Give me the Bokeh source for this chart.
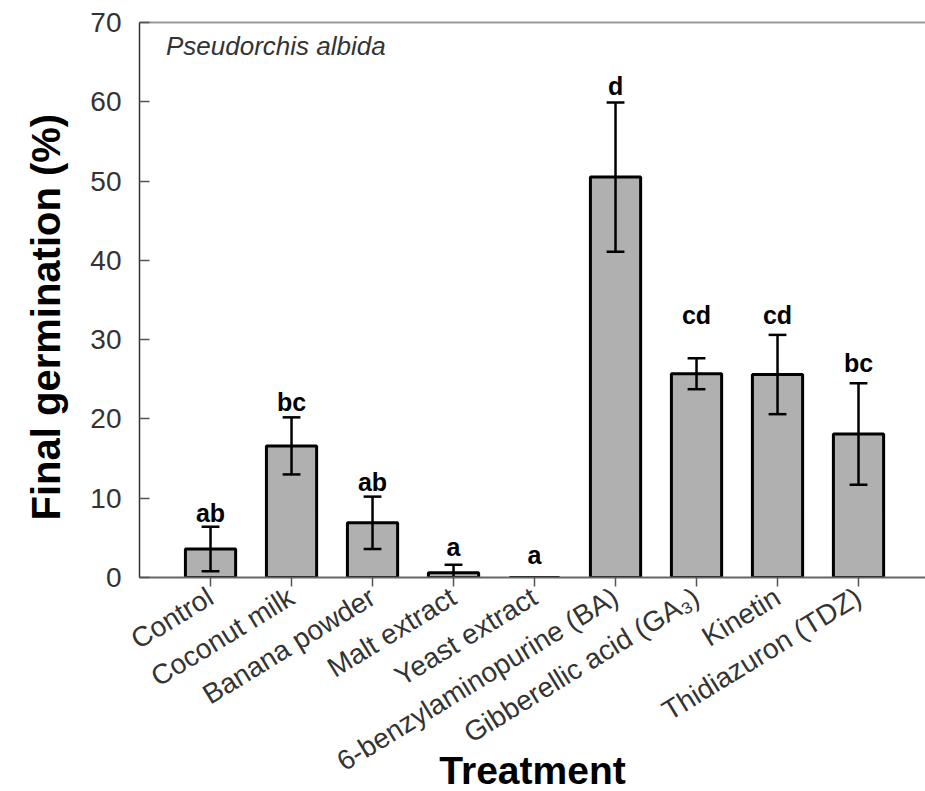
from bokeh.plotting import figure
from bokeh.models import ColumnDataSource, FixedTicker, Range1d, LinearAxis, Label, Title
from bokeh.core.properties import value
from bokeh.embed import file_html
from bokeh.resources import INLINE

# ---- data ----
treatments = ["Control", "Coconut milk", "Banana powder", "Malt extract", "Yeast extract",
              "6-benzylaminopurine (BA)", "Gibberellic acid (GA\u2083)", "Kinetin",
              "Thidiazuron (TDZ)"]
germination = [3.6, 16.6, 6.9, 0.6, 0.0, 50.5, 25.7, 25.6, 18.1]
std_error = [2.8, 3.6, 3.3, 1.0, 0.0, 9.4, 1.95, 5.0, 6.4]
letters = ["ab", "bc", "ab", "a", "a", "d", "cd", "cd", "bc"]
letter_y = [8.1, 22.1, 12.0, 3.8, 2.8, 62.0, 33.1, 33.1, 27.0]
y_ticks = [0, 10, 20, 30, 40, 50, 60, 70]

FONT = "Liberation Sans"
xs = list(range(len(treatments)))

bar_src = ColumnDataSource(dict(x=xs, top=germination))
err_x = [x for x, s in zip(xs, std_error) if s > 0]
err_hi = [m + s for m, s in zip(germination, std_error) if s > 0]
err_lo = [m - s for m, s in zip(germination, std_error) if s > 0]
err_src = ColumnDataSource(dict(x=err_x, hi=err_hi, lo=err_lo,
                                xl=[x - 0.11 for x in err_x], xr=[x + 0.11 for x in err_x]))
let_src = ColumnDataSource(dict(x=xs, y=letter_y, t=letters))

p = figure(frame_width=786, frame_height=555, output_backend="svg", toolbar_location=None,
           x_range=Range1d(-0.877, 8.827), y_range=Range1d(0, 70),
           min_border_left=139, min_border_top=22, min_border_right=0, min_border_bottom=0)
p.background_fill_color = "white"
p.border_fill_color = "white"
p.outline_line_color = None
p.xgrid.visible = False
p.ygrid.visible = False

p.vbar(x="x", top="top", bottom=0, width=0.62, source=bar_src,
       fill_color="#b0b0b0", line_color="black", line_width=3)
p.segment(x0="x", y0="lo", x1="x", y1="hi", source=err_src, line_color="black", line_width=2.5)
p.segment(x0="xl", y0="hi", x1="xr", y1="hi", source=err_src, line_color="black", line_width=2.5)
p.segment(x0="xl", y0="lo", x1="xr", y1="lo", source=err_src, line_color="black", line_width=2.5)

p.text(x="x", y="y", text="t", source=let_src, text_align="center",
       text_baseline="alphabetic", text_font=value(FONT), text_font_style="bold",
       text_font_size="25px", text_color="black")

# species label inside the frame (top-left)
species = Label(x=-0.55, y=67.0, text="Pseudorchis albida", text_font=FONT,
                text_font_size="26px", text_font_style="italic", text_color="#333333",
                text_baseline="alphabetic")
p.add_layout(species)

# y axis title as a side title (so that it can sit a little below the frame centre)
ytitle = Title(text="Final germination (%)", align="left", offset=57, standoff=40,
               text_font=FONT, text_font_style="bold", text_font_size="40px",
               text_color="black")
p.add_layout(ytitle, "left")

# y axis
ya = p.yaxis[0]
ya.ticker = FixedTicker(ticks=y_ticks)
ya.major_label_text_font = FONT
ya.major_label_text_font_size = "28px"
ya.major_label_text_color = "#333333"
ya.major_label_standoff = 18
ya.major_tick_in = 10
ya.major_tick_out = 0
ya.minor_tick_in = 0
ya.minor_tick_out = 0
ya.major_tick_line_color = "#555555"
ya.major_tick_line_width = 1.5
ya.axis_line_color = "#333333"
ya.axis_line_width = 1.5

# x axis
xa = p.xaxis[0]
xa.ticker = FixedTicker(ticks=xs)
xa.major_label_overrides = {i: t for i, t in zip(xs, treatments)}
xa.major_label_orientation = 0.55
xa.major_label_text_font = FONT
xa.major_label_text_font_size = "28px"
xa.major_label_text_color = "#333333"
xa.major_label_standoff = 8
xa.major_tick_in = 0
xa.major_tick_out = 9
xa.minor_tick_in = 0
xa.minor_tick_out = 0
xa.major_tick_line_color = "#555555"
xa.major_tick_line_width = 1.5
xa.axis_line_color = "#666666"
xa.axis_line_width = 2
xa.axis_label = "Treatment"
xa.axis_label_text_font = FONT
xa.axis_label_text_font_style = "bold"
xa.axis_label_text_font_size = "39px"
xa.axis_label_text_color = "black"
xa.axis_label_standoff = -44

# top border line
top = LinearAxis(ticker=FixedTicker(ticks=[]), major_label_text_font_size="0px",
                 major_tick_in=0, major_tick_out=0, minor_tick_in=0, minor_tick_out=0,
                 axis_line_color="#999999", axis_line_width=2)
p.add_layout(top, "above")

open("out.html", "w").write(file_html(p, INLINE))
